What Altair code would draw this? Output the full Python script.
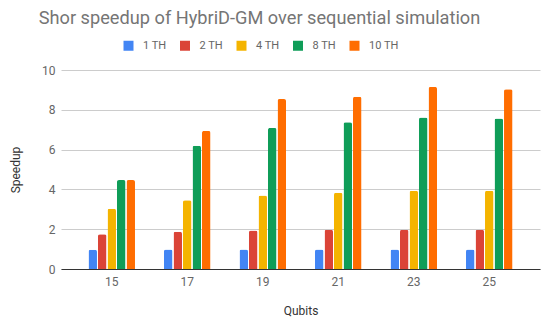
import altair as alt
import pandas as pd

qubits = ["15", "17", "19", "21", "23", "25"]
series = ["1 TH", "2 TH", "4 TH", "8 TH", "10 TH"]
values = {
    "1 TH": [0.97, 0.98, 0.98, 0.98, 0.98, 0.98],
    "2 TH": [1.74, 1.87, 1.94, 1.97, 1.97, 1.97],
    "4 TH": [3.03, 3.46, 3.69, 3.83, 3.93, 3.93],
    "8 TH": [4.47, 6.19, 7.09, 7.38, 7.61, 7.56],
    "10 TH": [4.47, 6.94, 8.54, 8.66, 9.15, 9.03],
}
colors = ["#4285F4", "#DB4437", "#F4B400", "#0F9D58", "#FF6D00"]

rows = []
for s in series:
    for q, v in zip(qubits, values[s]):
        rows.append({"Qubits": q, "Series": s, "Speedup": v})
df = pd.DataFrame(rows)

chart = alt.Chart(df).mark_bar(
    cornerRadiusTopLeft=2, cornerRadiusTopRight=2
).encode(
    x=alt.X("Qubits:N", sort=qubits,
            scale=alt.Scale(paddingInner=0.384, paddingOuter=0.364),
            axis=alt.Axis(labelAngle=0, ticks=False, domainColor="#333333",
                          labelPadding=7, titlePadding=18, labelFontSize=12,
                          labelColor="#666666", titleFontSize=12,
                          titleFontWeight="normal", titleColor="#333333")),
    xOffset=alt.XOffset("Series:N", sort=series,
                        scale=alt.Scale(paddingInner=0.105, paddingOuter=0)),
    y=alt.Y("Speedup:Q", scale=alt.Scale(domain=[0, 10]),
            axis=alt.Axis(values=[0, 2, 4, 6, 8, 10], domain=False, ticks=False,
                          gridColor="#CCCCCC", labelPadding=6, labelFontSize=12,
                          labelColor="#666666", titleFontSize=12,
                          titleFontWeight="normal", titleColor="#333333",
                          titlePadding=19)),
    color=alt.Color("Series:N", sort=series,
                    scale=alt.Scale(domain=series, range=colors),
                    legend=alt.Legend(title=None, orient="none", direction="horizontal",
                                      legendX=62, legendY=-30, symbolType="square",
                                      symbolSize=100, symbolStrokeWidth=0,
                                      labelFontSize=11, labelColor="#666666",
                                      labelOffset=9, columnPadding=12.5, padding=0)),
).properties(
    width=479,
    height=199,
    title=alt.TitleParams("Shor speedup of HybriD-GM over sequential simulation",
                          fontSize=18.2, fontWeight="normal", color="#757575",
                          anchor="middle", frame="group", dx=-41, offset=11.5),
    autosize=alt.AutoSizeParams(type="none"),
    padding={"left": 53, "top": 62, "right": 2, "bottom": 50},
).configure(
    font="Roboto"
).configure_view(
    stroke=None
)

chart.save("out.html", embed_options={"renderer": "svg", "actions": False})
